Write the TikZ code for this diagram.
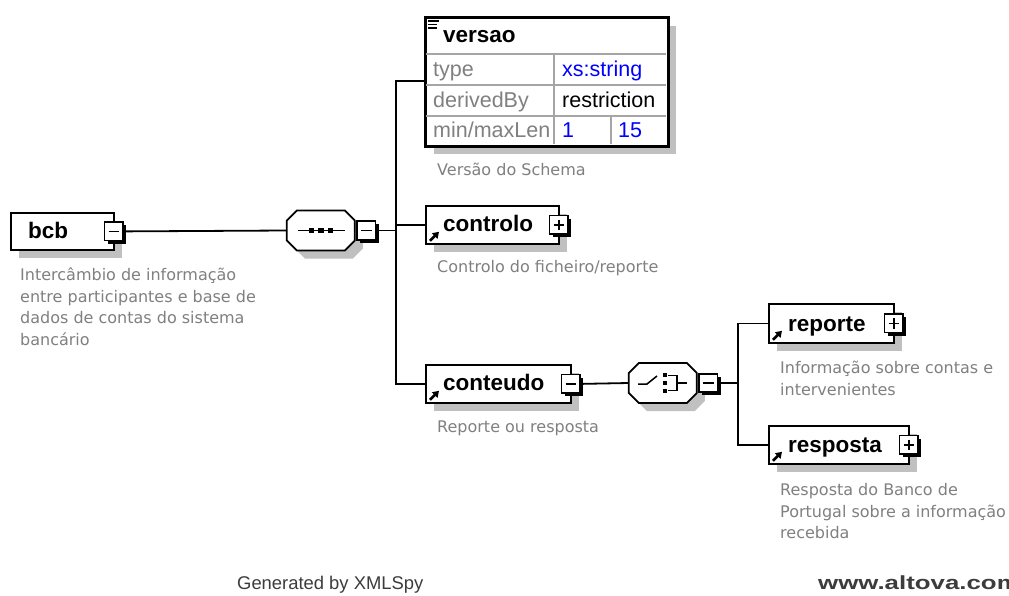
\documentclass[tikz,border=0pt]{standalone}
\usepackage{fontspec}
\setmainfont{Liberation Sans}
\newfontfamily\descfont{DejaVu Sans}
\usetikzlibrary{shadows,arrows.meta}

\definecolor{shadowgray}{RGB}{192,192,192}
\definecolor{labelgray}{RGB}{128,128,128}
\definecolor{descgray}{RGB}{128,128,128}
\definecolor{valblue}{RGB}{0,0,255}
\definecolor{cellline}{RGB}{165,165,165}
\definecolor{footgray}{RGB}{60,60,60}

\tikzset{
  elem/.style={rectangle, draw=black, line width=1.8pt, fill=white, inner sep=0pt,
    anchor=north west,
    drop shadow={shadow xshift=8pt, shadow yshift=-8pt, fill=shadowgray, opacity=1}},
  frame/.style={rectangle, inner sep=0pt, minimum width=68pt, minimum height=40pt},
  pmbox/.style={rectangle, draw=black, line width=1.6pt, fill=white, inner sep=0pt,
    minimum size=18.5pt,
    drop shadow={shadow xshift=3pt, shadow yshift=-3pt, fill=black, opacity=1}},
  minussign/.style={pmbox, path picture={
    \draw[line width=1.4pt] ([xshift=4pt]path picture bounding box.west)
      -- ([xshift=-4pt]path picture bounding box.east);}},
  plussign/.style={pmbox, path picture={
    \draw[line width=1.4pt] ([xshift=4pt]path picture bounding box.west)
      -- ([xshift=-4pt]path picture bounding box.east);
    \draw[line width=1.4pt] ([yshift=-4pt]path picture bounding box.north)
      -- ([yshift=4pt]path picture bounding box.south);}},
  conn/.style={line width=1.8pt, black},
  refarrow/.style={line width=2.6pt, -{Triangle[length=6pt,width=7.5pt]}},
  ename/.style={anchor=base west, inner sep=0pt, font=\fontsize{22.5}{27}\selectfont\bfseries},
  cell/.style={anchor=base west, inner sep=0pt, font=\fontsize{21.5}{26}\selectfont},
  desc/.style={anchor=base west, inner sep=0pt, text=descgray, font=\descfont\fontsize{16}{21.7}\selectfont},
  foot/.style={anchor=base west, inner sep=0pt, text=footgray},
}

% octagonal compositor outline around a frame node: shadow, then the body
\newcommand\compositor[1]{%
  \fill[shadowgray] ([xshift=8pt,yshift=-8pt]#1.west) ++(0,-10) -- ++(10,-10) -- ++(48,0)
    -- ++(10,10) -- ++(0,20) -- ++(-10,10) -- ++(-48,0) -- ++(-10,-10) -- cycle;
  \draw[line width=1.8pt, fill=white] (#1.west) ++(0,-10) -- ++(10,-10) -- ++(48,0)
    -- ++(10,10) -- ++(0,20) -- ++(-10,10) -- ++(-48,0) -- ++(-10,-10) -- cycle;}

\begin{document}
\begin{tikzpicture}[x=1pt, y=-1pt]
\useasboundingbox (0,0) rectangle (1009,596);
\fill[white] (0,0) rectangle (1009,596);

% ---- root element bcb
\node[elem, minimum width=103pt, minimum height=37pt] (bcb) at (10,212) {};
\node[ename] (bcblbl) at (28,238) {bcb};
\node[minussign] (bcbpm) at ([xshift=-1pt]bcb.east) {};
\node[desc] (bcbd1) at (20,280) {Intercâmbio de informação};
\node[desc] (bcbd2) at (20,302) {entre participantes e base de};
\node[desc] (bcbd3) at (20,323) {dados de contas do sistema};
\node[desc] (bcbd4) at (20,345) {bancário};

% ---- sequence compositor
\node[frame] (seq) at (321,230.5) {};
\compositor{seq}
\draw[line width=1.5pt] ([xshift=11pt]seq.west) -- ([xshift=-10pt]seq.east);
\foreach \dx in {-9.5,0,9.5}
  \fill ([xshift=\dx pt]seq.center) ++(-2.7,-2.7) rectangle ++(5.4,5.4);
\node[minussign, anchor=west] (seqpm) at ([xshift=1pt]seq.east) {};

% ---- versao (simple type)
\node[elem, minimum width=242pt, minimum height=128pt] (versao) at (425,17) {};
\draw[cellline, line width=1.2pt] (426,54) -- (666,54) (426,85) -- (666,85) (426,116) -- (666,116)
  (554,54) -- (554,144) (611,116) -- (611,144);
\draw[line width=1.8pt] (versao.north west) rectangle (versao.south east);
\draw[line width=1.8pt] (428,21) -- (439,21) (428,24.5) -- (437,24.5) (428,28) -- (437,28);
\node[ename] (versaolbl) at (443,43) {versao};
\node[cell, text=labelgray] (c11) at (433,77) {type};
\node[cell, text=labelgray] (c21) at (433,108) {derivedBy};
\node[cell, text=labelgray] (c31) at (433,138) {min/maxLen};
\node[cell, text=valblue] (c12) at (562,77) {xs:string};
\node[cell] (c22) at (562,108) {restriction};
\node[cell, text=valblue] (c32) at (562,138) {1};
\node[cell, text=valblue] (c33) at (618,138) {15};
\node[desc] (versaod) at (437,176) {Versão do Schema};

% ---- controlo
\node[elem, minimum width=133pt, minimum height=38pt] (controlo) at (425,205) {};
\draw[refarrow] ([shift={(5,-4)}]controlo.south west) -- ++(9,-9);
\node[ename] (contrololbl) at (443,232) {controlo};
\node[plussign] (controlopm) at ([xshift=-1pt]controlo.east) {};
\node[desc] (controlod) at (437,272) {Controlo do ficheiro/reporte};

% ---- conteudo
\node[elem, minimum width=145pt, minimum height=38pt] (conteudo) at (425,364) {};
\draw[refarrow] ([shift={(5,-4)}]conteudo.south west) -- ++(9,-9);
\node[ename] (conteudolbl) at (443,390) {conteudo};
\node[minussign] (conteudopm) at ([xshift=-1pt]conteudo.east) {};
\node[desc] (conteudod) at (437,432) {Reporte ou resposta};

% ---- choice compositor
\node[frame] (choice) at (663,383) {};
\compositor{choice}
\draw[line width=1.5pt] (638,384) -- (647,384) -- (657,376);
\foreach \yy in {375,383,391}
  \fill (662.5,\yy) ++(0,-2.4) rectangle ++(4.8,4.8);
\draw[line width=1.5pt] (668,375.5) -- (677,375.5) -- (677,390.5) -- (668,390.5)
  (677,383) -- (687,383);
\node[minussign, anchor=west] (choicepm) at ([xshift=1pt]choice.east) {};

% ---- reporte
\node[elem, minimum width=125pt, minimum height=39pt] (reporte) at (768,303) {};
\draw[refarrow] ([shift={(5,-4)}]reporte.south west) -- ++(9,-9);
\node[ename] (reportelbl) at (788,331) {reporte};
\node[plussign] (reportepm) at ([xshift=-1pt]reporte.east) {};
\node[desc] (reported1) at (780,373) {Informação sobre contas e};
\node[desc] (reported2) at (780,395) {intervenientes};

% ---- resposta
\node[elem, minimum width=140pt, minimum height=38pt] (resposta) at (768,425) {};
\draw[refarrow] ([shift={(5,-4)}]resposta.south west) -- ++(9,-9);
\node[ename] (respostalbl) at (788,452) {resposta};
\node[plussign] (respostapm) at ([xshift=-1pt]resposta.east) {};
\node[desc] (respostad1) at (780,495) {Resposta do Banco de};
\node[desc] (respostad2) at (780,517) {Portugal sobre a informação};
\node[desc] (respostad3) at (780,538) {recebida};

% ---- connectors
\coordinate (tr) at (396,230.5);
\coordinate (vj) at (425,81);
\coordinate (tr2) at (738,383);
\draw[conn] (bcbpm.east) -- (seq.west);
\draw[conn] (seqpm.east) -- (tr);
\draw[conn] (vj) -| (tr);
\draw[conn] (controlo.west) -- (controlo.west -| tr);
\draw[conn] (conteudo.west) -| (tr);
\draw[conn] (conteudopm.east) -- (choice.west);
\draw[conn] (choicepm.east) -- (tr2);
\draw[conn] (reporte.west) -| (tr2);
\draw[conn] (resposta.west) -| (tr2);

% ---- footer
\node[foot, font=\fontsize{18.4}{22}\selectfont] (gen) at (237,589) {Generated by XMLSpy};
\node[foot, font=\fontsize{19}{22}\selectfont\bfseries] (web) at (818,589) {\scalebox{1.36}[1]{www.altova.com}};
\end{tikzpicture}
\end{document}
